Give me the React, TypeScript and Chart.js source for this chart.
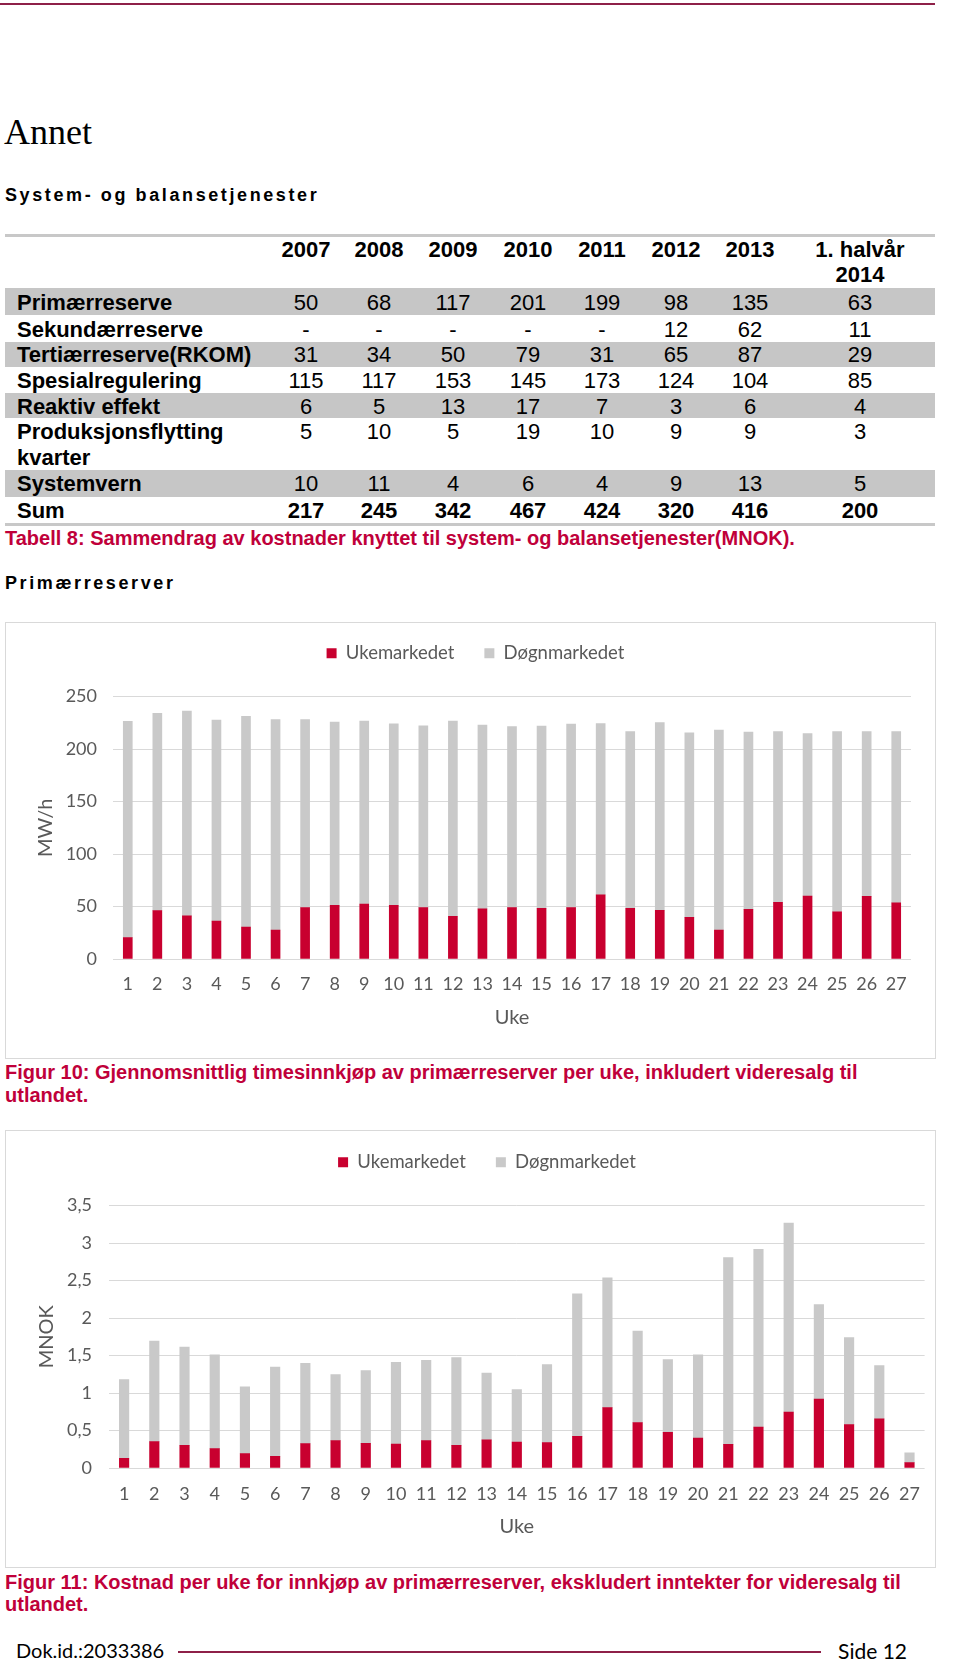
import React, { useEffect, useRef } from 'react';
import { Chart, registerables } from 'chart.js';
Chart.register(...registerables);

// ---------- data ----------
const WEEKS = ['1','2','3','4','5','6','7','8','9','10','11','12','13','14','15','16','17','18','19','20','21','22','23','24','25','26','27'];

// Figur 10: MW/h
const MW_UKEMARKEDET = [20.3, 46, 41, 36, 30.5, 27.6, 49, 51, 52.4, 51, 49, 40.7, 47.7, 49, 48.3, 49, 61, 48.3, 46.4, 39.7, 27.6, 47.3, 54, 60, 45, 59.7, 53.4];
const MW_DOGNMARKEDET = [206, 188, 195, 191.5, 200.5, 200.4, 179, 174.6, 174.1, 173, 173, 185.8, 175, 172.4, 173.5, 174.7, 163.3, 168.4, 178.8, 175.7, 190.4, 168.7, 162.7, 154.8, 171.7, 157, 163.3];

// Figur 11: MNOK
const MNOK_UKEMARKEDET = [0.129, 0.351, 0.302, 0.258, 0.191, 0.156, 0.325, 0.365, 0.329, 0.32, 0.365, 0.302, 0.374, 0.347, 0.338, 0.422, 0.805, 0.605, 0.476, 0.40, 0.316, 0.547, 0.747, 0.92, 0.578, 0.654, 0.071];
const MNOK_DOGNMARKEDET = [1.05, 1.34, 1.31, 1.25, 0.89, 1.19, 1.07, 0.88, 0.97, 1.09, 1.07, 1.17, 0.89, 0.70, 1.04, 1.90, 1.73, 1.22, 0.97, 1.11, 2.49, 2.37, 2.52, 1.26, 1.16, 0.71, 0.13];

const SERIES_NAMES = ['Ukemarkedet', 'Døgnmarkedet'];

// Tabell 8
const YEARS = ['2007', '2008', '2009', '2010', '2011', '2012', '2013'];
const LAST_HEADER = ['1. halvår', '2014'];
const ROW_LABELS = ['Primærreserve', 'Sekundærreserve', 'Tertiærreserve(RKOM)', 'Spesialregulering', 'Reaktiv effekt', 'Produksjonsflytting', 'Systemvern', 'Sum'];
const PRIMAER = ['50', '68', '117', '201', '199', '98', '135', '63'];
const SEKUNDAER = ['-', '-', '-', '-', '-', '12', '62', '11'];
const TERTIAER = ['31', '34', '50', '79', '31', '65', '87', '29'];
const SPESIAL = ['115', '117', '153', '145', '173', '124', '104', '85'];
const REAKTIV = ['6', '5', '13', '17', '7', '3', '6', '4'];
const PRODUKSJON = ['5', '10', '5', '19', '10', '9', '9', '3'];
const SYSTEMVERN = ['10', '11', '4', '6', '4', '9', '13', '5'];
const SUM = ['217', '245', '342', '467', '424', '320', '416', '200'];

// ---------- styles ----------
const RED = '#C8002F';
const GRAY = '#C9C9C9';
const CAPTION = '#C0003A';
const MAROON = '#8E2048';
const AXIS_TXT = '#595959';
const SANS = '"Liberation Sans", Arial, sans-serif';
const CAL = 'Lato, "Open Sans", sans-serif';

type ChartProps = {
  uke: number[]; dogn: number[]; yMax: number; yStep: number; yTitle: string;
  left: number; top: number; width: number; height: number;
  padLeft: number; padRight: number; padTop: number; yWidth: number; xHeight: number;
  yTitlePad: number; xTickPad: number; yTickPad: number; xTitlePad: number;
  spacer: number; barThickness: number; comma: boolean;
};

function BarChart(p: ChartProps) {
  const ref = useRef<HTMLCanvasElement>(null);
  useEffect(() => {
    const tickFont = { family: 'Lato', size: 18 };
    const titleFont = { family: 'Lato', size: 20 };
    const chart = new Chart(ref.current as HTMLCanvasElement, {
      type: 'bar',
      data: {
        labels: WEEKS,
        datasets: [
          { label: SERIES_NAMES[0], data: p.uke, backgroundColor: RED, barThickness: p.barThickness },
          { label: SERIES_NAMES[1], data: p.dogn, backgroundColor: GRAY, barThickness: p.barThickness },
        ],
      },
      options: {
        animation: false,
        responsive: false,
        maintainAspectRatio: false,
        layout: { padding: { left: p.padLeft, right: p.padRight, top: p.padTop, bottom: 0 } },
        plugins: {
          legend: {
            position: 'top',
            weight: 3000,
            labels: { boxWidth: 10, boxHeight: 10, padding: 30, color: AXIS_TXT, font: { family: 'Lato', size: 18.5 } },
          },
          // empty title used only as a spacer between legend and plot
          title: { display: true, position: 'top', text: ' ', font: { size: 1 }, padding: { top: 0, bottom: p.spacer } },
          tooltip: { enabled: false },
        },
        scales: {
          x: {
            stacked: true,
            grid: { display: false, drawTicks: false },
            border: { display: false },
            ticks: { color: AXIS_TXT, font: tickFont, padding: p.xTickPad, autoSkip: false, maxRotation: 0 },
            title: { display: true, text: 'Uke', color: AXIS_TXT, font: titleFont, padding: { top: 0, bottom: p.xTitlePad } },
            afterFit: (s: any) => { s.height = p.xHeight; },
          },
          y: {
            stacked: true,
            min: 0,
            max: p.yMax,
            grid: { color: '#D9D9D9', drawTicks: false, lineWidth: 1 },
            border: { display: false },
            ticks: {
              stepSize: p.yStep, color: AXIS_TXT, font: tickFont, padding: p.yTickPad,
              callback: (v: any) => p.comma ? String(v).replace('.', ',') : String(v),
            },
            title: { display: true, text: p.yTitle, color: AXIS_TXT, font: titleFont, padding: { top: p.yTitlePad, bottom: 0 } },
            afterFit: (s: any) => { s.width = p.yWidth; },
          },
        },
      },
    } as any);
    return () => chart.destroy();
  }, []);
  return (
    <canvas ref={ref} width={p.width} height={p.height}
      style={{ position: 'absolute', left: p.left, top: p.top, width: p.width, height: p.height }} />
  );
}

function T(props: { x: number; cy: number; size: number; children: any; bold?: boolean; color?: string; family?: string; spacing?: number; align?: 'left' | 'center' | 'right'; w?: number }) {
  const lh = Math.round(props.size * 1.3);
  const align = props.align || 'left';
  const w = props.w || 0;
  let left = props.x;
  if (align === 'center') left = props.x - w / 2;
  if (align === 'right') left = props.x - w;
  return (
    <div style={{
      position: 'absolute', left, top: props.cy - lh / 2, height: lh, lineHeight: lh + 'px',
      width: align === 'left' ? undefined : w, textAlign: align, whiteSpace: 'nowrap',
      fontFamily: props.family || SANS, fontSize: props.size, fontWeight: props.bold ? 'bold' : 'normal',
      color: props.color || '#000', letterSpacing: props.spacing ? props.spacing : undefined,
    }}>{props.children}</div>
  );
}

const COLS = [306, 379, 453, 528, 602, 676, 750, 860];
const ROWS = [
  { top: 288, bottom: 315, gray: true, cy: 302, values: PRIMAER },
  { top: 315, bottom: 342, gray: false, cy: 329, values: SEKUNDAER },
  { top: 342, bottom: 367, gray: true, cy: 354, values: TERTIAER },
  { top: 367, bottom: 393, gray: false, cy: 380, values: SPESIAL },
  { top: 393, bottom: 418, gray: true, cy: 406, values: REAKTIV },
  { top: 418, bottom: 470, gray: false, cy: 431, values: PRODUKSJON },
  { top: 470, bottom: 497, gray: true, cy: 483, values: SYSTEMVERN },
  { top: 497, bottom: 523, gray: false, cy: 510, values: SUM },
];

export default function App() {
  const TS = 22;
  const CS = 20;
  return (
    <div style={{ position: 'absolute', left: 0, top: 0, width: 960, height: 1661, background: '#fff', overflow: 'hidden' }}>
      {/* top rule */}
      <div style={{ position: 'absolute', left: 0, top: 3, width: 935, height: 2, background: MAROON }} />

      <T x={4} cy={132} size={36} family='"Liberation Serif", "Times New Roman", serif'>Annet</T>
      <T x={5} cy={195.5} size={18} bold spacing={2.6}>System- og balansetjenester</T>

      {/* table */}
      <div style={{ position: 'absolute', left: 5, top: 234, width: 930, height: 3, background: '#C8C8C8' }} />
      {ROWS.map((r, i) => r.gray ? (
        <div key={'b' + i} style={{ position: 'absolute', left: 5, top: r.top, width: 930, height: r.bottom - r.top, background: '#C6C6C6' }} />
      ) : null)}
      <div style={{ position: 'absolute', left: 5, top: 523, width: 930, height: 3, background: '#C8C8C8' }} />
      {YEARS.map((y, i) => (
        <T key={'h' + i} x={COLS[i]} cy={249} size={TS} bold align="center" w={90}>{y}</T>
      ))}
      <T x={COLS[7]} cy={249} size={TS} bold align="center" w={140}>{LAST_HEADER[0]}</T>
      <T x={COLS[7]} cy={274} size={TS} bold align="center" w={140}>{LAST_HEADER[1]}</T>
      {ROWS.map((r, i) => (
        <T key={'l' + i} x={17} cy={r.cy} size={TS} bold>{ROW_LABELS[i]}</T>
      ))}
      <T x={17} cy={457} size={TS} bold>kvarter</T>
      {ROWS.map((r, i) => r.values.map((v, j) => (
        <T key={'v' + i + '_' + j} x={COLS[j]} cy={r.cy} size={TS} bold={i === ROWS.length - 1} align="center" w={90}>{v}</T>
      )))}
      <T x={5} cy={538} size={CS} bold color={CAPTION}>Tabell 8: Sammendrag av kostnader knyttet til system- og balansetjenester(MNOK).</T>

      <T x={5} cy={583} size={18} bold spacing={2.6}>Primærreserver</T>

      {/* chart 1 */}
      <div style={{ position: 'absolute', left: 5, top: 622, width: 929, height: 435, border: '1px solid #D9D9D9' }} />
      <BarChart uke={MW_UKEMARKEDET} dogn={MW_DOGNMARKEDET} yMax={250} yStep={50} yTitle="MW/h"
        left={5} top={614} width={930} height={444}
        padLeft={35} padRight={24} padTop={0} yWidth={73} xHeight={99} spacer={22.8}
        yTitlePad={-6} xTickPad={14} yTickPad={16} xTitlePad={28} barThickness={9} comma={false} />
      <T x={5} cy={1072} size={CS} bold color={CAPTION}>Figur 10: Gjennomsnittlig timesinnkjøp av primærreserver per uke, inkludert videresalg til</T>
      <T x={5} cy={1095} size={CS} bold color={CAPTION}>utlandet.</T>

      {/* chart 2 */}
      <div style={{ position: 'absolute', left: 5, top: 1130, width: 929, height: 436, border: '1px solid #D9D9D9' }} />
      <BarChart uke={MNOK_UKEMARKEDET} dogn={MNOK_DOGNMARKEDET} yMax={3.5} yStep={0.5} yTitle="MNOK"
        left={5} top={1123} width={930} height={443}
        padLeft={37} padRight={3} padTop={0} yWidth={67} xHeight={98} spacer={22.8}
        yTitlePad={-7} xTickPad={15} yTickPad={17} xTitlePad={27} barThickness={9.5} comma={true} />
      <T x={5} cy={1582} size={CS} bold color={CAPTION}>Figur 11: Kostnad per uke for innkjøp av primærreserver, ekskludert inntekter for videresalg til</T>
      <T x={5} cy={1604} size={CS} bold color={CAPTION}>utlandet.</T>

      {/* footer */}
      <T x={16} cy={1650} size={20} family={CAL}>Dok.id.:2033386</T>
      <div style={{ position: 'absolute', left: 178, top: 1651, width: 643, height: 1.5, background: MAROON }} />
      <T x={907} cy={1650} size={21} family={CAL} align="right" w={120}>Side 12</T>
    </div>
  );
}
